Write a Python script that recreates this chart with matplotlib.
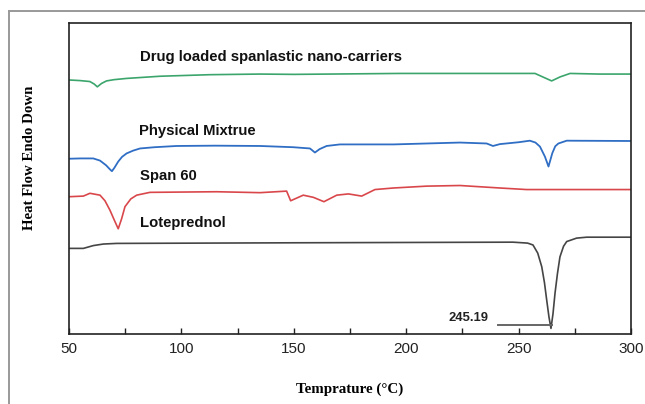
import matplotlib
matplotlib.use("Agg")
import matplotlib.pyplot as plt
from matplotlib.lines import Line2D
from matplotlib.ticker import MultipleLocator

# DSC thermograms, values (heat flow in arbitrary units, endo down)
temp_green = [50, 55, 59.3, 61.2, 62.6, 64.5, 66.7, 70, 75.6, 90.5, 112.7, 135, 150, 197, 250, 257.3, 261, 264.7,
              268.5, 272.9, 286, 300]
flow_green = [81.6, 81.4, 81.1, 80.3, 79.4, 80.5, 81.3, 81.7, 82.1, 82.8, 83.3, 83.5, 83.4, 83.7, 83.7, 83.7, 82.5,
              81.3, 82.6, 83.7, 83.5, 83.5]

temp_blue = [50, 55, 60.8, 63.8, 66.5, 68.2, 69.1, 70.2, 71.9, 73.6, 75.6, 78.5, 81.6, 88, 97.9, 115, 135, 149.8,
             157.2, 159.4, 161.5, 164.6, 170.5, 194.3, 223.9, 235.8, 238.6, 241.7, 250, 255, 257.5, 259.5, 261.7,
             263.3, 265, 266.3, 267.7, 271.4, 300]
flow_blue = [56.3, 56.4, 56.4, 55.7, 54.2, 52.9, 52.3, 53.4, 55.4, 56.9, 58.0, 58.9, 59.6, 60.0, 60.4, 60.5, 60.4,
             60.0, 59.6, 58.3, 59.4, 60.4, 60.9, 60.9, 61.5, 61.2, 60.4, 61.0, 61.6, 62.1, 61.5, 60.2, 57.0,
             53.8, 58.1, 60.3, 61.2, 62.1, 62.0]

temp_red = [50, 56.4, 59.3, 63.8, 66, 68.2, 70.2, 71.9, 73.4, 74.9, 77.5, 80.1, 86, 115.7, 135, 146.8, 148.6,
            154.2, 158.7, 163.4, 169.1, 174.3, 180.2, 186.1, 194.3, 209.1, 223.9, 241.7, 253.6, 300]
flow_red = [44.1, 44.3, 45.2, 44.6, 42.8, 39.8, 36.5, 33.8, 37.0, 40.9, 43.4, 44.6, 45.5, 45.7, 45.4, 45.9, 42.8,
            44.6, 43.9, 42.5, 44.6, 45.0, 44.3, 46.4, 46.9, 47.5, 47.7, 46.9, 46.4, 46.4]

temp_black = [50, 56.4, 60.8, 65.3, 71.2, 150, 247.5, 254, 256.4, 258.5, 260.3, 261.5, 262.5, 263.5, 264.4,
              265.3, 266.2, 267.3, 268.4, 270, 271.4, 275.8, 280.3, 300]
flow_black = [27.5, 27.5, 28.4, 28.9, 29.1, 29.3, 29.5, 29.2, 28.6, 26.0, 21.6, 16.5, 10.9, 5.5, 1.8,
              6.5, 13.1, 19.5, 24.8, 28.2, 29.7, 30.8, 31.1, 31.1]

# curve labels: (text, x position in degC, y position)
curve_labels = [("Drug loaded spanlastic nano-carriers", 81.6, 89.1),
                ("Physical Mixtrue", 81.0, 65.3),
                ("Span 60", 81.6, 50.9),
                ("Loteprednol", 81.6, 35.8)]

peak_label = "245.19"
peak_line_x = [240.8, 264.7]
peak_line_y = [2.9, 2.9]

fig = plt.figure(figsize=(6.45, 4.04), dpi=100)
ax = fig.add_axes([69 / 645, 1 - 334 / 404, (631 - 69) / 645, (334 - 22.7) / 404])

ax.plot(temp_green, flow_green, color="#3ba56c", lw=1.2)
ax.plot(temp_blue, flow_blue, color="#2f6ec4", lw=1.3)
ax.plot(temp_red, flow_red, color="#d9474b", lw=1.2)
ax.plot(temp_black, flow_black, color="#454545", lw=1.2)

for txt, xx, yy in curve_labels:
    ax.text(xx, yy, txt, ha="left", va="center", fontsize=10.7, fontweight="bold",
            family="Liberation Sans", color="#111111")

ax.plot(peak_line_x, peak_line_y, color="#666666", lw=1.4)
ax.text(236.8, 5.1, peak_label, ha="right", va="center", fontsize=9.4, fontweight="bold",
        family="Liberation Sans", color="#222222")

ax.set_xlim(50, 300)
ax.set_ylim(0, 100)
ax.xaxis.set_major_locator(MultipleLocator(50))
ax.xaxis.set_minor_locator(MultipleLocator(25))
ax.tick_params(axis="x", which="both", direction="in", length=4, width=1.0, top=False,
               labelsize=11, pad=6, colors="#222222")
ax.set_yticks([])
for tl in ax.get_xticklabels():
    tl.set_family("Liberation Sans")
for sp in ax.spines.values():
    sp.set_linewidth(1.2)
    sp.set_color("#222222")

fig.text(350 / 645, 1 - 389 / 404, "Temprature (°C)", ha="center", va="center",
         fontsize=10.8, fontweight="bold", family="Liberation Serif")
fig.text(29.5 / 645, 1 - 158 / 404, "Heat Flow Endo Down", ha="center", va="center", rotation=90,
         fontsize=10.7, fontweight="bold", family="Liberation Serif")

# outer grey frame of the original figure panel
fig.add_artist(Line2D([9 / 645, 1], [1 - 11 / 404, 1 - 11 / 404], color="#999999", lw=1.4))
fig.add_artist(Line2D([9 / 645, 9 / 645], [0, 1 - 11 / 404], color="#999999", lw=1.4))

fig.savefig("out.png", dpi=100)
